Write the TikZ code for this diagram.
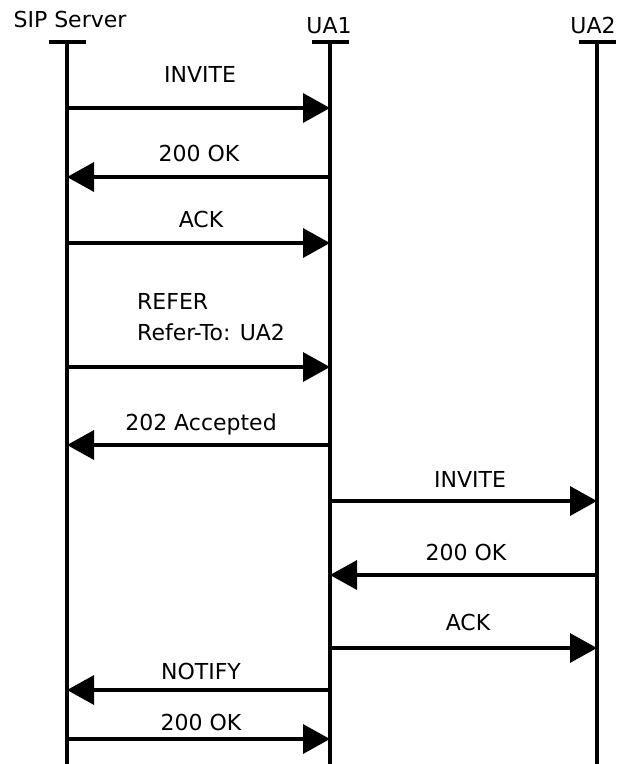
\documentclass[tikz,border=0pt]{standalone}
\usepackage{fontspec}
\setmainfont{DejaVu Sans}
\usetikzlibrary{arrows.meta,positioning,calc}

\begin{document}
\begin{tikzpicture}[
  x=1pt, y=-1pt,
  life/.style={line width=3.4pt},
  bar/.style={line width=3.6pt},
  msg/.style={line width=3.4pt, -{Triangle[length=27pt, width=29pt]}},
  lbl/.style={anchor=base, inner sep=0pt, font=\fontsize{22}{31}\selectfont}
]
  \useasboundingbox (0,0) rectangle (619,764);

  % lifelines
  \coordinate (srv) at (67,42);
  \coordinate (ua1) at (330,42);
  \coordinate (ua2) at (597,42);
  \node[lbl] (srvname) at (70,27) {SIP Server};
  \node[lbl] (ua1name) at (329,33) {UA1};
  \node[lbl] (ua2name) at (593,33) {UA2};
  \foreach \l in {srv,ua1,ua2} {
    \coordinate (\l end) at (\l |- 0,764);
    \draw[life] (\l) -- (\l end);
    \draw[bar] ([xshift=-18.5pt]\l) -- ([xshift=18.5pt]\l);
  }

  % messages
  \foreach \y/\a/\b [count=\i] in {108/srv/ua1, 177/ua1/srv, 243/srv/ua1, 367/srv/ua1, 445/ua1/srv,
                                   501/ua1/ua2, 575/ua2/ua1, 648/ua1/ua2, 690/ua1/srv, 739/srv/ua1}
    \draw[msg] (\a |- 0,\y) coordinate (m\i a) -- (\b |- 0,\y) coordinate (m\i b);

  \node[lbl] (l1) at (200,82) {INVITE};
  \node[lbl] (l2) at (199,161) {200 OK};
  \node[lbl] (l3) at (201,227) {ACK};
  \node[lbl, anchor=base west, align=left] (l4) at (137,340) {REFER\\Refer-To: UA2};
  \node[lbl] (l5) at (201,430) {202 Accepted};
  \node[lbl] (l6) at (470,487) {INVITE};
  \node[lbl] (l7) at (466,560) {200 OK};
  \node[lbl] (l8) at (468,630) {ACK};
  \node[lbl] (l9) at (201,679) {NOTIFY};
  \node[lbl] (l10) at (201,730) {200 OK};
\end{tikzpicture}
\end{document}
